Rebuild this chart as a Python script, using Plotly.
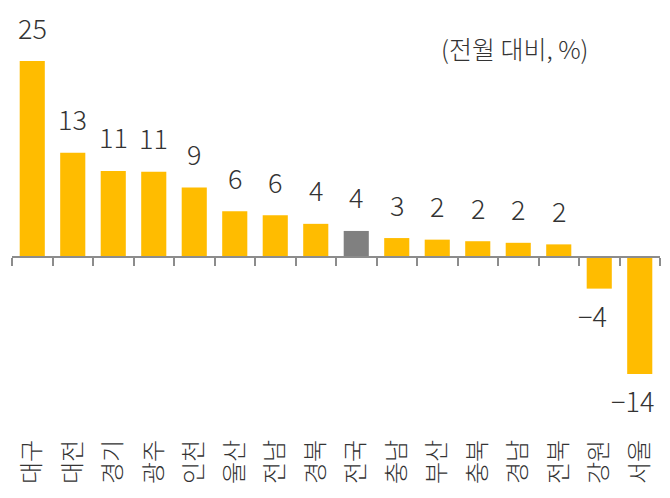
import plotly.graph_objects as go

regions = ["대구", "대전", "경기", "광주", "인천", "울산", "전남", "경북",
           "전국", "충남", "부산", "충북", "경남", "전북", "강원", "서울"]
values = [24.8, 13.2, 10.9, 10.8, 8.8, 5.8, 5.3, 4.2,
          3.3, 2.4, 2.2, 2.0, 1.8, 1.6, -4.0, -14.8]
labels = ["25", "13", "11", "11", "9", "6", "6", "4",
          "4", "3", "2", "2", "2", "2", "−4", "−14"]
unit_note = "(전월 대비, %)"

FONT = "Noto Sans CJK KR"
TXT = "#333333"
GOLD = "#FFBC00"
GREY = "#808080"
AXIS = "#8c8c8c"

colors = [GREY if r == "전국" else GOLD for r in regions]

y_min, y_max = -22.4, 25.57
zero_pos = (0 - y_min) / (y_max - y_min)

fig = go.Figure()
fig.add_trace(go.Bar(x=regions, y=values, marker_color=colors, marker_line_width=0,
                     width=0.62, hoverinfo='skip', showlegend=False))
# invisible copy on a second x axis pinned to y=0 -> baseline with boundary ticks
fig.add_trace(go.Scatter(x=regions, y=values, xaxis='x2', mode='markers',
                         marker=dict(opacity=0), hoverinfo='skip', showlegend=False))

for r, v, t in zip(regions, values, labels):
    fig.add_annotation(x=r, y=v, text=t, showarrow=False, yanchor='middle',
                       yshift=34 if v > 0 else -27, xshift=0 if v > 0 else -7,
                       font=dict(family=FONT, size=27, color=TXT, weight=300))

fig.add_annotation(xref='paper', yref='paper', x=0.775, y=1.0186, text=unit_note,
                   showarrow=False, xanchor='center', yanchor='middle',
                   font=dict(family=FONT, size=25, color=TXT, weight=300))

# page body has an 8px margin, so the figure is a bit smaller than the window
fig.update_layout(
    width=662, height=490,
    margin=dict(l=4, r=10, t=47, b=64, autoexpand=False),
    plot_bgcolor='white', paper_bgcolor='white',
    xaxis=dict(type='category', range=[-0.5, 15.5], showline=False, ticks='',
               showgrid=False, tickangle=-90,
               tickfont=dict(family=FONT, size=24, color=TXT, weight=300)),
    xaxis2=dict(type='category', overlaying='x', anchor='free', position=zero_pos,
                range=[-0.5, 15.5], showline=True, linecolor=AXIS, linewidth=2,
                ticks='outside', tickson='boundaries', ticklen=8, tickwidth=2,
                tickcolor=AXIS, showticklabels=False, showgrid=False),
    yaxis=dict(range=[y_min, y_max], visible=False, showgrid=False, zeroline=False),
)

fig.write_html("out.html")
